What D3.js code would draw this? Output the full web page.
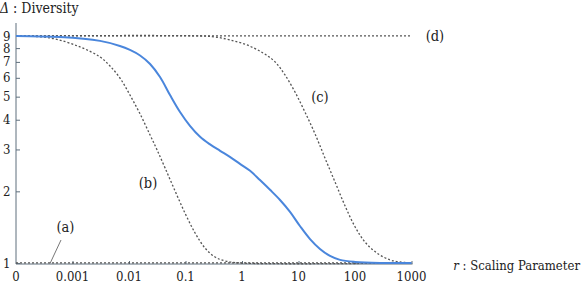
<!DOCTYPE html>
<html><head><meta charset="utf-8">
<script src="https://cdn.jsdelivr.net/npm/d3@7"></script>
<style>
body{margin:0;background:#fff;}
svg text{font-family:'DejaVu Serif Condensed','DejaVu Serif',serif;font-stretch:condensed;}
</style></head>
<body><svg id="c" width="582" height="282"></svg>
<script>
// tick values / labels ("0" sits at 1e-4 on the log axis)
const xTickValues = [1e-4, 1e-3, 1e-2, 1e-1, 1, 10, 100, 1000];
const xTickLabels = ["0", "0.001", "0.01", "0.1", "1", "10", "100", "1000"];
const yTickValues = [1, 2, 3, 4, 5, 6, 7, 8, 9];

// main (blue) curve
const mainR = [1e-4, 6e-4, 3.07e-3, 6.9e-3, 0.0104, 0.0157, 0.0236, 0.0354, 0.0532, 0.080, 0.120, 0.181, 0.272, 0.41, 0.61, 0.92, 1.39, 2.08, 3.13, 4.71, 7.08, 10.6, 16.0, 24.0, 36.1, 54.3, 100, 276, 1000];
const mainD = [9.0, 8.91, 8.58, 8.17, 7.86, 7.45, 6.86, 6.05, 5.08, 4.31, 3.77, 3.39, 3.15, 2.96, 2.79, 2.61, 2.44, 2.23, 2.03, 1.84, 1.64, 1.43, 1.26, 1.145, 1.07, 1.03, 1.01, 1.0, 1.0];

// (b) curve
const bR = [1e-4, 4.0e-4, 1.36e-3, 3.07e-3, 4.61e-3, 6.9e-3, 0.0104, 0.0157, 0.0236, 0.0313, 0.0434, 0.0652, 0.098, 0.147, 0.221, 0.333, 0.50, 0.92, 1000];
const bD = [9.0, 8.83, 8.09, 7.34, 6.73, 5.99, 5.08, 4.23, 3.45, 2.99, 2.51, 2.01, 1.62, 1.34, 1.156, 1.06, 1.02, 1.0, 1.0];

// (c) curve
const cR = [1e-4, 0.181, 0.333, 0.61, 1.22, 2.36, 3.84, 5.77, 8.67, 13.0, 19.6, 29.4, 44.3, 66.5, 100, 150, 245, 416, 625, 1000];
const cD = [9.0, 9.0, 8.91, 8.66, 8.25, 7.63, 7.0, 6.17, 5.23, 4.31, 3.49, 2.76, 2.19, 1.74, 1.42, 1.225, 1.10, 1.03, 1.01, 1.0];

// (a) and (d) constants
const aR = [1e-4, 1000], aD = [1, 1];
const dR = [1e-4, 1000], dD = [9, 9];

const svg = d3.select("#c");
const x = d3.scaleLog().domain([1e-4, 1000]).range([16, 411.5]);
const y = d3.scaleLog().domain([0.99, 10.2]).range([264, 23]);
const axisColor = "#5f6f7d";
const INK = "#222";

// axes
const xAxis = svg.append("g").attr("transform", "translate(0,264)")
  .call(d3.axisBottom(x).tickValues(xTickValues.slice(1)).tickSize(-3).tickFormat(""));
xAxis.select(".domain").attr("d", `M${x(1e-4)},0H${x(1000)+1}`);
xAxis.selectAll("line,path").attr("stroke", axisColor);
const yAxis = svg.append("g").attr("transform", "translate(16,0)")
  .call(d3.axisLeft(y).tickValues(yTickValues).tickSize(-4).tickFormat(""));
yAxis.select(".domain").attr("d", `M0,${y.range()[1]}V${y.range()[0]}`);
yAxis.selectAll("line,path").attr("stroke", axisColor);

// tick labels
svg.append("g").selectAll("text").data(xTickValues).join("text")
  .attr("fill", INK)
  .attr("x", d => x(d)).attr("y", 280.5).attr("text-anchor", "middle")
  .style("font-size", "13px").text((d, i) => xTickLabels[i]);
svg.append("g").selectAll("text").data(yTickValues).join("text")
  .attr("fill", INK)
  .attr("x", 10.5).attr("y", d => y(d) + 4.6).attr("text-anchor", "end")
  .style("font-size", "13px").text(d => d);

// axis titles
const t1 = svg.append("text").attr("fill", INK)
  .attr("x", 0).attr("y", 13).style("font-size", "14px");
t1.append("tspan").style("font-style", "italic").text("Δ");
t1.append("tspan").text(" : Diversity");
const t2 = svg.append("text").attr("fill", INK)
  .attr("x", 580).attr("y", 269.5).style("font-size", "13px").attr("text-anchor", "end");
t2.append("tspan").style("font-style", "italic").text("r");
t2.append("tspan").text(" : Scaling Parameter");

const line = (R, D) => d3.line().curve(d3.curveCatmullRom.alpha(0.5))
  .x((d, i) => x(R[i])).y((d, i) => y(D[i]))(R);

const dotted = {stroke: "#555", "stroke-width": 1.3, "stroke-dasharray": "2,2"};
function addDotted(R, D) {
  const p = svg.append("path").attr("d", line(R, D)).attr("fill", "none");
  Object.entries(dotted).forEach(([k, v]) => p.attr(k, v));
}
addDotted(aR, aD);
addDotted(dR, dD);
addDotted(bR, bD);
addDotted(cR, cD);

svg.append("path").attr("d", line(mainR, mainD)).attr("fill", "none")
  .attr("stroke", "#4a86dc").attr("stroke-width", 2);

// curve labels
const labels = [
  {t: "(a)", r: 7.5e-4, d: 1.42},
  {t: "(b)", r: 0.0217, d: 2.17},
  {t: "(c)", r: 24, d: 4.99},
  {t: "(d)", r: 2600, d: 9}
];
svg.append("g").selectAll("text").data(labels).join("text")
  .attr("fill", INK)
  .attr("x", d => x(d.r)).attr("y", d => y(d.d) + 5).attr("text-anchor", "middle")
  .style("font-size", "14.5px").text(d => d.t);
// leader line for (a)
svg.append("line").attr("x1", x(6.26e-4)).attr("y1", 240).attr("x2", x(4.0e-4)).attr("y2", 263.5)
  .attr("stroke", "#777").attr("stroke-width", 1);
</script></body></html>
